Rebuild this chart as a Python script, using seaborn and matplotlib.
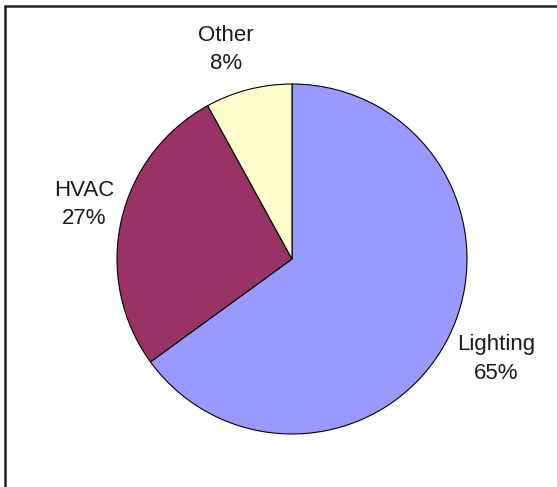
import matplotlib
matplotlib.use("Agg")
import matplotlib.pyplot as plt
import seaborn as sns
import numpy as np
from matplotlib.patches import Rectangle

# data
categories = ["Lighting", "HVAC", "Other"]
shares = [65, 27, 8]
slice_colors = ["#9999FF", "#993366", "#FFFFCC"]

# label placement (radial distance, angle nudge in degrees), Excel-style
label_layout = [(1.298, 0.9), (1.228, -2.0), (1.255, 3.1)]

sns.set_style("white")
plt.rcParams['font.family'] = ['Liberation Sans', 'DejaVu Sans']

W, H = 557, 487
fig = plt.figure(figsize=(W / 100, H / 100), dpi=100)
fig.patch.set_facecolor("white")

# axes over the whole figure, 1 data unit = 175 px, pie centre at (292, 259) px
ax = fig.add_axes([0, 0, 1, 1])
R = 175.0
cx, cy = 292.0, 259.0

labels = [f"{c}\n{s}%" for c, s in zip(categories, shares)]
wedges, texts = ax.pie(
    shares,
    labels=labels,
    colors=sns.color_palette(slice_colors),
    startangle=90,
    counterclock=False,
    wedgeprops=dict(edgecolor="black", linewidth=0.8),
    textprops=dict(fontsize=16, color="#1a1a1a"),
)
for w, t, (dist, nudge) in zip(wedges, texts, label_layout):
    mid = np.deg2rad((w.theta1 + w.theta2) / 2 + nudge)
    t.set_position((dist * np.cos(mid), dist * np.sin(mid)))
    t.set_horizontalalignment("center")
    t.set_verticalalignment("center")
    t.set_linespacing(1.45)

ax.set_xlim(-cx / R, (W - cx) / R)
ax.set_ylim(-(H - cy) / R, cy / R)
ax.set_aspect("auto")
ax.axis("off")

# chart frame (runs off the right and bottom edges in the reference)
fig.patches.append(Rectangle((5 / W, -0.05), 1.2, 1 - 6 / H + 0.05,
                             transform=fig.transFigure, fill=False,
                             edgecolor="#222222", linewidth=1.8))

fig.savefig("out.png", dpi=100)
